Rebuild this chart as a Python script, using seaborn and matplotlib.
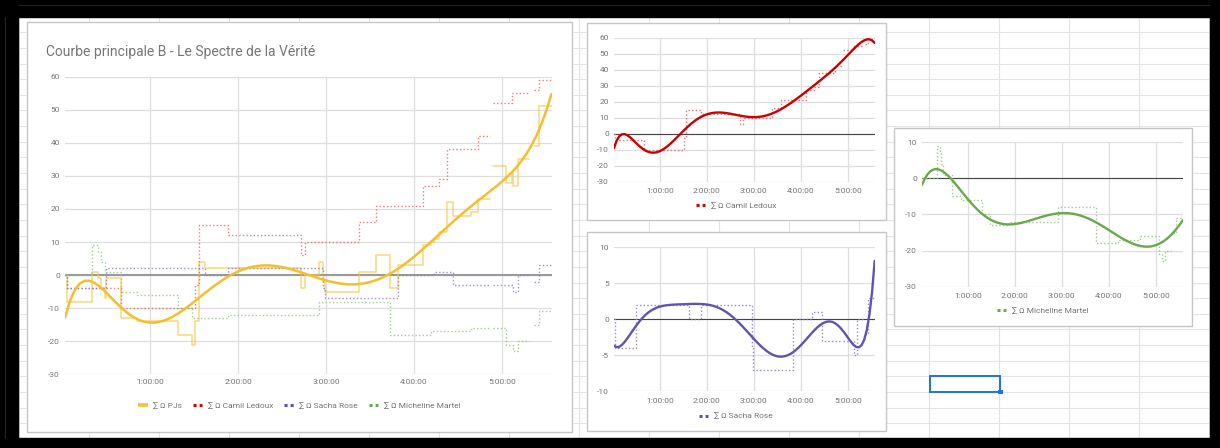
import numpy as np
import pandas as pd
import matplotlib
matplotlib.use("Agg")
import matplotlib.pyplot as plt
import seaborn as sns
from matplotlib.patches import Rectangle
from matplotlib.lines import Line2D

nan = np.nan

# ---- data (time in hours, values at each breakpoint, step-post) ----
T = [0.03, 0.05, 0.34, 0.41, 0.44, 0.48, 0.50, 0.67, 0.85, 1.31, 1.48, 1.51,
     1.55, 1.62, 1.88, 2.71, 2.76, 2.92, 2.96, 2.99, 3.38, 3.57, 3.73, 3.82,
     4.10, 4.19, 4.23, 4.28, 4.38, 4.44, 4.65, 4.73, 4.87, 4.90, 5.05, 5.11,
     5.13, 5.18, 5.31, 5.36, 5.42, 5.57]
camil = [0, -4, -4, -4, -4, -4, -4, -10, -10, -10, -10, -3,
         15, 15, 12, 6, 10, 10, 10, 10, 16, 21, 21, 21,
         27, 27, 27, 29, 38, 38, 38, 42, nan, 52, 52, 55,
         55, 55, nan, 56, 59, 59]
sacha = [0, -4, -4, -4, -4, -4, 2, 2, 2, 2, 2, 2,
         2, 0, 2, 2, 2, 2, -4, -7, -7, -7, -7, 0,
         0, 0, 1, 1, 1, -3, -3, -3, nan, -3, -3, -3,
         -5, 0, nan, -2, 3, 3]
micheline = [0, 0, 9, 7, 4, 1, 1, -5, -6, -10, -13, -13,
             -13, -13, -12, -12, -12, -8, -8, -8, -8, -8, -18, -18,
             -18, -17, -17, -17, -17, -17, -16, -16, nan, -16, -21, -21,
             -23, -20, nan, -15, -11, -11]
pjs = [0, -8, 1, -1, -4, -7, -1, -13, -14, -18, -21, -14,
       4, 2, 2, -4, 0, 4, -2, -5, 1, 6, -4, 3,
       9, 10, 11, 13, 22, 18, 19, 23, nan, 33, 28, 31,
       27, 35, nan, 39, 51, 51]

title = "Courbe principale B - Le Spectre de la Vérité"
hour_ticks = [1, 2, 3, 4, 5]
hour_labels = ["1:00:00", "2:00:00", "3:00:00", "4:00:00", "5:00:00"]
lbl_pjs = "∑ Ω PJs"
lbl_camil = "∑ Ω Camil Ledoux"
lbl_sacha = "∑ Ω Sacha Rose"
lbl_mich = "∑ Ω Micheline Martel"

# ---- style ----
sns.set_theme(style="white")
plt.rcParams["font.family"] = ["Roboto", "DejaVu Sans"]
TXT = "#757575"
GRID = "#dedede"

W, H = 1220, 448
fig = plt.figure(figsize=(W / 100, H / 100), dpi=100)
fig.patch.set_facecolor("white")

bg = fig.add_axes([0, 0, 1, 1])
bg.set_xlim(0, W)
bg.set_ylim(H, 0)
bg.axis("off")
# spreadsheet cell grid
for x in np.arange(19, W, 70):
    bg.plot([x, x], [0, H], color="#e3e3e3", lw=0.8, zorder=1)
for y in np.arange(32.3 - 15.64, H, 15.64):
    bg.plot([0, W], [y, y], color="#e3e3e3", lw=0.8, zorder=1)
# black frame
for r in [(0, 0, W, 17), (0, 0, 18, H), (1210, 0, 10, H), (0, 438, W, 10)]:
    bg.add_patch(Rectangle(r[:2], r[2], r[3], color="black", zorder=2))
bg.plot([5, 5], [17, 438], color="#2a2a2a", lw=0.6, zorder=3)
bg.plot([18, 1210], [5, 5], color="#2a2a2a", lw=0.6, zorder=3)
# chart cards
for (x1, y1, x2, y2) in [(27, 22, 572, 432), (587, 23, 886, 220),
                         (587, 232, 886, 431), (894, 128, 1192, 326)]:
    bg.add_patch(Rectangle((x1, y1), x2 - x1, y2 - y1, fc="white",
                           ec="#c6c6c6", lw=1.0, zorder=4))
# selected cell
bg.add_patch(Rectangle((930, 376), 70, 16, fc="none", ec="#1a73e8", lw=1.4, zorder=5))
bg.add_patch(Rectangle((998, 390), 4.5, 4.5, fc="#1a73e8", ec="none", zorder=6))
bg.text(46.5, 56, title, fontsize=10, color=TXT, va="baseline", ha="left", zorder=6)


def make_ax(x1, y1, x2, y2):
    ax = fig.add_axes([x1 / W, 1 - y2 / H, (x2 - x1) / W, (y2 - y1) / H])
    ax.set_facecolor("none")
    return ax


def style_ax(ax, yticks, ylim, ypad, xpad, zero_color, zero_lw):
    ax.set_xlim(0.03, 5.57)
    ax.set_ylim(*ylim)
    ax.set_xticks(hour_ticks)
    ax.set_xticklabels(hour_labels)
    ax.set_yticks(yticks)
    ax.set_yticklabels([str(v) for v in yticks])
    ax.grid(True, color=GRID, lw=0.9)
    ax.set_axisbelow(True)
    for s in ax.spines.values():
        s.set_visible(False)
    ax.tick_params(axis="both", length=0, labelsize=6, labelcolor=TXT)
    ax.tick_params(axis="y", pad=ypad)
    ax.tick_params(axis="x", pad=xpad)
    ax.axhline(0, color=zero_color, lw=zero_lw, zorder=1.5)
    ax.set_xlabel("")
    ax.set_ylabel("")


def step_frame(values):
    rows, seg = [], 0
    for i, v in enumerate(values):
        if np.isnan(v):
            seg += 1
            continue
        rows.append((T[i], v, seg))
        if i + 1 < len(T) and np.isnan(values[i + 1]):
            rows.append((T[i + 1], v, seg))
    return pd.DataFrame(rows, columns=["t", "v", "seg"])


def dense_frame(values):
    tg = np.arange(T[0], T[-1] + 1e-9, 1 / 60)
    idx = np.searchsorted(T, tg, side="right") - 1
    v = np.asarray(values, dtype=float)[idx]
    m = ~np.isnan(v)
    return pd.DataFrame({"t": tg[m], "v": v[m]})


def draw_steps(ax, values, color, lw, ls, alpha):
    df = step_frame(values)
    sns.lineplot(data=df, x="t", y="v", units="seg", estimator=None,
                 drawstyle="steps-post", color=color, lw=lw, ls=ls,
                 alpha=alpha, ax=ax, legend=False, zorder=3)


def draw_trend(ax, values, color, lw, order):
    sns.regplot(data=dense_frame(values), x="t", y="v", order=order,
                scatter=False, ci=None, truncate=True,
                line_kws=dict(color=color, lw=lw, zorder=4), ax=ax)


DOT = (0, (1, 1.6))
C_Y, C_R, C_P, C_G = "#f1c232", "#d50000", "#674ea7", "#6aa84f"

# ---- main chart ----
ax = make_ax(65, 76.7, 552, 374.3)
draw_steps(ax, pjs, "#f6c644", 1.1, "-", 0.7)
draw_steps(ax, camil, "#e06666", 1.0, DOT, 0.85)
draw_steps(ax, sacha, "#8e7cc3", 1.0, DOT, 0.85)
draw_steps(ax, micheline, "#93c47d", 1.0, DOT, 0.85)
draw_trend(ax, pjs, "#f3bf2e", 1.8, 8)
style_ax(ax, list(range(-30, 61, 10)), (-30, 60), 3.6, 3.5, "#9a9a9a", 1.5)

handles = [Line2D([0], [0], color=C_Y, lw=2.6, solid_capstyle="butt"),
           Line2D([0], [0], color=C_R, lw=2.2, ls=(0, (1, 1)), dash_capstyle="butt"),
           Line2D([0], [0], color=C_P, lw=2.2, ls=(0, (1, 1)), dash_capstyle="butt"),
           Line2D([0], [0], color=C_G, lw=2.2, ls=(0, (1, 1)), dash_capstyle="butt")]
fig.legend(handles, [lbl_pjs, lbl_camil, lbl_sacha, lbl_mich], loc="center",
           bbox_to_anchor=(299.5 / W, 1 - 405.7 / H), ncol=4, frameon=False,
           fontsize=6, labelcolor=TXT, handlelength=1.1, handletextpad=0.7,
           columnspacing=1.3, borderaxespad=0, borderpad=0)


def small_chart(box, values, step_color, trend_color, legend_color, label,
                yticks, ylim, order, legend_xy):
    ax = make_ax(*box)
    draw_steps(ax, values, step_color, 1.0, DOT, 0.9)
    draw_trend(ax, values, trend_color, 1.7, order)
    style_ax(ax, yticks, ylim, 3.6, 4.5, "#444444", 0.8)
    h = Line2D([0], [0], color=legend_color, lw=2.2, ls=(0, (1, 1)), dash_capstyle="butt")
    fig.legend([h], [label], loc="center",
               bbox_to_anchor=(legend_xy[0] / W, 1 - legend_xy[1] / H),
               frameon=False, fontsize=6, labelcolor=TXT, handlelength=1.1,
               handletextpad=0.7, borderaxespad=0, borderpad=0)


small_chart((614, 37.7, 875, 181.7), camil, "#e06666", "#cc0000", C_R, lbl_camil,
            list(range(-30, 61, 10)), (-30, 60), 8, (736.3, 206))
small_chart((614, 247.3, 875, 391.3), sacha, "#8e7cc3", "#6353b0", C_P, lbl_sacha,
            [-10, -5, 0, 5, 10], (-10, 10), 8, (736, 416))
small_chart((922, 142.3, 1183, 286.7), micheline, "#93c47d", "#6aa84f", C_G, lbl_mich,
            [-30, -20, -10, 0, 10], (-30, 10), 7, (1043, 311))

fig.savefig("out.png", dpi=100)
